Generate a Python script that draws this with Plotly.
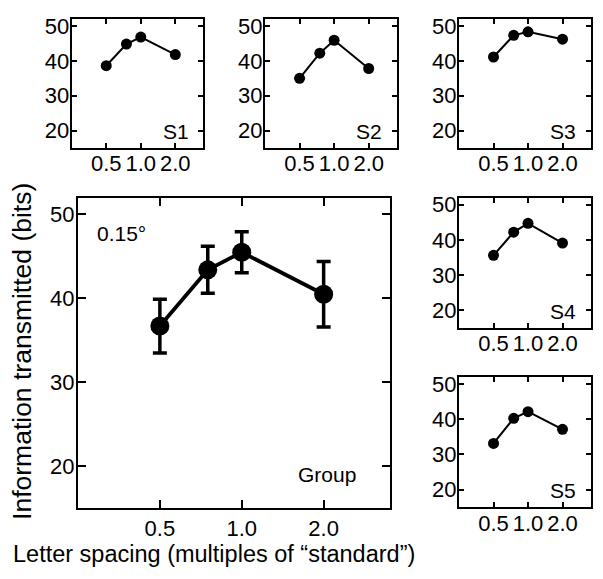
import plotly.graph_objects as go

# ---- data ----
spacing = [0.5, 0.75, 1.0, 2.0]
tick_vals = [0.5, 1.0, 2.0]
tick_text = ["0.5", "1.0", "2.0"]
y_ticks = [20, 30, 40, 50]

group_mean = [36.7, 43.4, 45.5, 40.5]
group_err = [3.2, 2.8, 2.45, 3.9]

s1 = [38.6, 44.8, 46.8, 41.8]
s2 = [35.0, 42.2, 45.9, 37.8]
s3 = [41.1, 47.3, 48.3, 46.2]
s4 = [35.6, 42.2, 44.7, 39.1]
s5 = [33.1, 40.2, 42.1, 37.1]

subjects = [("S1", s1), ("S2", s2), ("S3", s3), ("S4", s4), ("S5", s5)]

FONT = "Liberation Sans, Arial, Helvetica, sans-serif"
# page body has an 8px margin; figure is drawn inside it
OFF = 8
W, H = 603 - 2 * OFF, 579 - 2 * OFF

def dx(a, b):
    return [(a - OFF) / W, (b - OFF) / W]

def dy(top, bottom):
    return [1 - (bottom - OFF) / H, 1 - (top - OFF) / H]

def px(x):
    return (x - OFF) / W

def py(y):
    return 1 - (y - OFF) / H

small_dom = {
    "S1": (dx(71.7, 203.3), dy(14, 144.3)),
    "S2": (dx(265, 396.7), dy(14, 144.3)),
    "S3": (dx(459, 590.5), dy(14, 144.3)),
    "S4": (dx(459, 590.5), dy(194.3, 325.7)),
    "S5": (dx(459, 590.5), dy(375, 506.7)),
}
group_dom = (dx(78, 390), dy(194.3, 507.7))

XR = [-0.602, 0.545]
YR = [15, 52]

fig = go.Figure()
layout = {}

def axis_pair(idx, xdom, ydom, ticklen, tfont, xstand, ystand):
    xs = "" if idx == 1 else str(idx)
    common = dict(
        ticks="inside", ticklen=ticklen, tickwidth=1.5, tickcolor="black",
        showline=True, linewidth=2, linecolor="black", mirror="ticks",
        showgrid=False, zeroline=False,
        tickfont=dict(family=FONT, size=tfont, color="black"),
        fixedrange=True,
    )
    layout["xaxis" + xs] = dict(
        domain=xdom, type="log", range=XR, anchor="y" + xs,
        tickvals=tick_vals, ticktext=tick_text,
        ticklabelstandoff=xstand, **common)
    layout["yaxis" + xs] = dict(
        domain=ydom, range=YR, anchor="x" + xs, tickvals=y_ticks,
        ticklabelstandoff=ystand, **common)

axis_pair(1, group_dom[0], group_dom[1], 8, 22, -1, -3)
fig.add_trace(go.Scatter(
    x=spacing, y=group_mean, xaxis="x", yaxis="y",
    mode="lines+markers",
    line=dict(color="black", width=3.8),
    marker=dict(color="black", size=19),
    error_y=dict(type="data", array=group_err, visible=True,
                 color="black", thickness=3.5, width=7),
    showlegend=False,
))

annotations = [
    dict(text="0.15°", xref="x domain", yref="y domain", x=0.054, y=0.883,
         xanchor="left", yanchor="middle", showarrow=False,
         font=dict(family=FONT, size=21, color="black")),
    dict(text="Group", xref="x domain", yref="y domain", x=0.897, y=0.108,
         xanchor="right", yanchor="middle", showarrow=False,
         font=dict(family=FONT, size=21, color="black")),
]

for i, (name, vals) in enumerate(subjects):
    idx = i + 2
    xd, yd = small_dom[name]
    axis_pair(idx, xd, yd, 5, 22, -5, -4)
    fig.add_trace(go.Scatter(
        x=spacing, y=vals, xaxis="x%d" % idx, yaxis="y%d" % idx,
        mode="lines+markers",
        line=dict(color="black", width=2),
        marker=dict(color="black", size=11),
        showlegend=False,
    ))
    annotations.append(dict(
        text=name, xref="x%d domain" % idx, yref="y%d domain" % idx,
        x=0.905, y=0.125, xanchor="right", yanchor="middle", showarrow=False,
        font=dict(family=FONT, size=21, color="black")))

annotations.append(dict(
    text="Information transmitted (bits)", xref="paper", yref="paper",
    x=px(22), y=py(350), xanchor="center", yanchor="middle",
    textangle=-90, showarrow=False,
    font=dict(family=FONT, size=26.5, color="black")))
annotations.append(dict(
    text="Letter spacing (multiples of “standard”)", xref="paper", yref="paper",
    x=px(214), y=py(554), xanchor="center", yanchor="middle",
    showarrow=False, borderpad=0,
    font=dict(family=FONT, size=23.5, color="black")))

fig.update_layout(
    width=W, height=H,
    margin=dict(l=0, r=0, t=0, b=0),
    paper_bgcolor="white", plot_bgcolor="white",
    annotations=annotations,
    **layout,
)

fig.write_html("out.html")
